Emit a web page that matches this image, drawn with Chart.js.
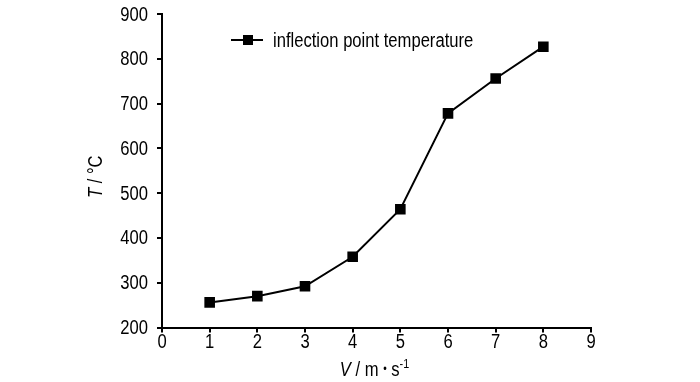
<!DOCTYPE html>
<html>
<head>
<meta charset="utf-8">
<script src="https://cdn.jsdelivr.net/npm/chart.js@4.4.1/dist/chart.umd.min.js"></script>
<style>
  html, body { margin: 0; padding: 0; background: #fff; }
  #wrap { width: 700px; height: 382px; }
</style>
</head>
<body>
<div id="wrap"><canvas id="plot_T" width="700" height="382"></canvas></div>
<script>
var speeds = [1, 2, 3, 4, 5, 6, 7, 8];
var temps = [256, 270, 292, 358, 464, 678, 756, 827];
var seriesLabel = "inflection point temperature";
var xTicks = [0, 1, 2, 3, 4, 5, 6, 7, 8, 9];
var yTicks = [200, 300, 400, 500, 600, 700, 800, 900];

// no Arial Narrow here, so squeeze Liberation Sans sideways
var FONT = "'Liberation Sans', Arial, sans-serif";
var SQUEEZE = 0.83;

// draws a run of [text, font, dy] pieces at x (align: 0 left, 0.5 centre, 1 right)
function drawRun(ctx, parts, x, y, align) {
  var total = 0;
  parts.forEach(function (p) { ctx.font = p[1]; total += ctx.measureText(p[0]).width; });
  ctx.save();
  ctx.translate(x, y);
  ctx.scale(SQUEEZE, 1);
  var cx = -total * align;
  parts.forEach(function (p) {
    ctx.font = p[1];
    ctx.fillText(p[0], cx, p[2] || 0);
    cx += ctx.measureText(p[0]).width;
  });
  ctx.restore();
}

var extras = {
  id: "extras",
  afterDraw: function (chart) {
    var ctx = chart.ctx;
    var area = chart.chartArea;
    var sx = chart.scales.x, sy = chart.scales.y;
    ctx.save();
    ctx.fillStyle = "#000";
    ctx.textAlign = "left";

    // tick labels
    ctx.textBaseline = "middle";
    xTicks.forEach(function (v) {
      drawRun(ctx, [[String(v), "20px " + FONT]], sx.getPixelForValue(v), area.bottom + 15, 0.5);
    });
    yTicks.forEach(function (v) {
      drawRun(ctx, [[String(v), "20px " + FONT]], area.left - 14, sy.getPixelForValue(v) + 1, 1);
    });

    // x title
    ctx.textBaseline = "alphabetic";
    drawRun(ctx, [
      ["V", "italic 20px " + FONT],
      [" / m ", "20px " + FONT],
      ["\u2022", "12px " + FONT, -3],
      [" s", "20px " + FONT],
      ["-1", "13px " + FONT, -8]
    ], (area.left + area.right) / 2 - 2, 376, 0.5);

    // y title
    ctx.save();
    ctx.translate(102, (area.top + area.bottom) / 2 + 6);
    ctx.rotate(-Math.PI / 2);
    drawRun(ctx, [
      ["T", "italic 20px " + FONT],
      [" / \u00b0C", "20px " + FONT]
    ], 0, 0, 0.5);
    ctx.restore();

    // legend: line + square + label
    var lx = area.left + 69, ly = area.top + 26;
    ctx.strokeStyle = "#000";
    ctx.lineWidth = 2;
    ctx.beginPath();
    ctx.moveTo(lx, ly);
    ctx.lineTo(lx + 32, ly);
    ctx.stroke();
    ctx.fillRect(lx + 12, ly - 5, 10, 10);
    ctx.textBaseline = "middle";
    drawRun(ctx, [[seriesLabel, "20px " + FONT]], lx + 42, ly + 1, 0);
    ctx.restore();
  }
};

var plot_T = new Chart(document.getElementById("plot_T"), {
  type: "line",
  data: {
    datasets: [
      {
        label: seriesLabel,
        data: speeds.map(function (v, i) { return { x: v, y: temps[i] }; }),
        fill: false,
        borderColor: "#000",
        backgroundColor: "#000",
        borderWidth: 2,
        tension: 0,
        pointStyle: "rect",
        pointRadius: 7.5,
        pointBorderWidth: 0,
      },
    ],
  },
  options: {
    responsive: false,
    animation: false,
    devicePixelRatio: 1,
    layout: { padding: { top: 14, right: 109, left: 0, bottom: 0 } },
    plugins: {
      legend: { display: false },
      tooltip: { enabled: false },
    },
    scales: {
      x: {
        type: "linear",
        min: 0,
        max: 9,
        afterBuildTicks: function (scale) { scale.ticks = xTicks.map(function (v) { return { value: v }; }); },
        afterFit: function (scale) { scale.height = 54.5; },
        border: { display: true, color: "#000", width: 2 },
        grid: { display: true, drawOnChartArea: false, tickLength: 5, color: "#000", lineWidth: 2 },
        ticks: { display: false },
      },
      y: {
        min: 200,
        max: 900,
        afterBuildTicks: function (scale) { scale.ticks = yTicks.map(function (v) { return { value: v }; }); },
        afterFit: function (scale) { scale.width = 162; },
        border: { display: true, color: "#000", width: 2 },
        grid: { display: true, drawOnChartArea: false, tickLength: 5, color: "#000", lineWidth: 2 },
        ticks: { display: false },
      },
    },
  },
  plugins: [extras],
});
</script>
</body>
</html>
